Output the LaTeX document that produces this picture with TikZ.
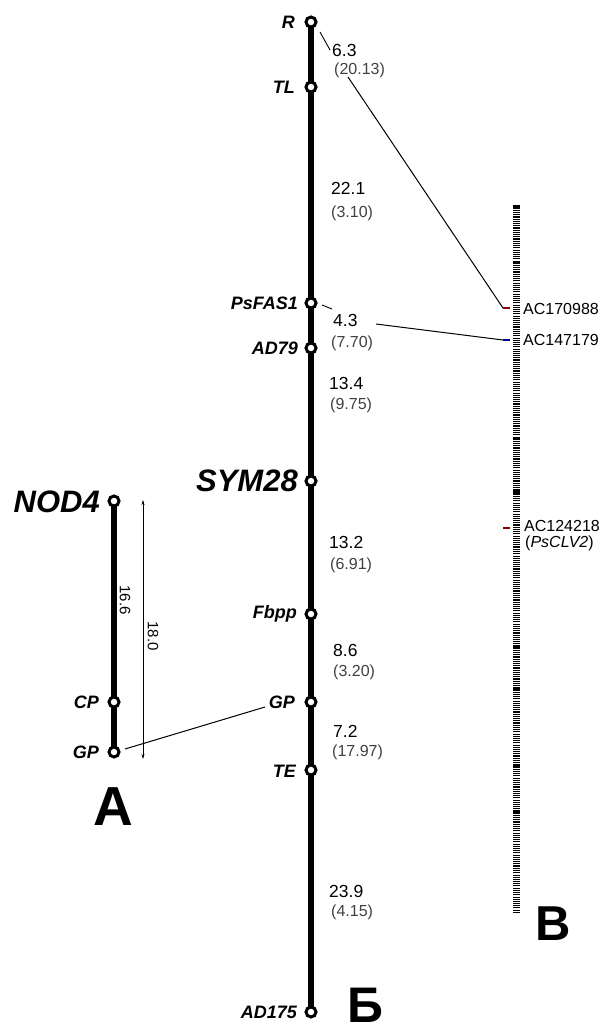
\documentclass[tikz,border=0pt]{standalone}
\usepackage{fontspec}
\setmainfont{Liberation Sans}
\usetikzlibrary{arrows.meta}
\begin{document}
\begin{tikzpicture}[x=1pt,y=-1pt,
  loc/.style={circle,draw=black,fill=white,line width=3pt,minimum size=10pt,inner sep=0pt},
  chrom/.style={line width=5.5pt},
  lbl/.style={font=\fontsize{18}{18}\selectfont\bfseries\itshape,anchor=east,inner sep=0pt},
  big/.style={font=\fontsize{31}{31}\selectfont\bfseries\itshape,anchor=east,inner sep=0pt},
  dist/.style={font=\fontsize{17.5}{17.5}\selectfont,anchor=west,inner sep=0pt},
  cmlbl/.style={font=\fontsize{16}{16}\selectfont,text=black!75,anchor=west,inner sep=0pt},
  acl/.style={font=\fontsize{16}{16}\selectfont,anchor=west,inner sep=0pt},
  rot/.style={font=\fontsize{15}{15}\selectfont,rotate=-90,inner sep=0pt},
  link/.style={line width=1pt}]
\useasboundingbox (0,0) rectangle (605,1028);
% ---- main chromosome
\coordinate (mtop) at (311,22);
\coordinate (mbot) at (311,1012);
\draw[chrom] (mtop) -- (mbot);
\node[loc] (R) at (311,22) {};
\node[loc] (TL) at (311,87) {};
\node[loc] (PsFAS1) at (311,303) {};
\node[loc] (AD79) at (311,348) {};
\node[loc] (SYM28) at (311,481) {};
\node[loc] (Fbpp) at (311,614) {};
\node[loc] (GPm) at (311,702) {};
\node[loc] (TE) at (311,770) {};
\node[loc] (AD175) at (311,1012) {};
\node[lbl] (lR) at (295,22) {R};
\node[lbl] (lTL) at (295,87) {TL};
\node[lbl] (lPs) at (298,303) {PsFAS1};
\node[lbl] (lAD79) at (298,348) {AD79};
\node[big] (lSYM) at (298,481) {SYM28};
\node[lbl] (lFb) at (297,614) {Fbpp};
\node[lbl] (lGPm) at (295,702) {GP};
\node[lbl] (lTE) at (296,771) {TE};
\node[lbl] (lAD175) at (297,1012) {AD175};
% distances
\node[dist] (d1) at (332,50) {6.3};
\node[cmlbl] (c1) at (334,70) {(20.13)};
\node[dist] (d2) at (331,188) {22.1};
\node[cmlbl] (c2) at (331,213) {(3.10)};
\node[dist] (d3) at (333,320) {4.3};
\node[cmlbl] (c3) at (331,343) {(7.70)};
\node[dist] (d4) at (329,383) {13.4};
\node[cmlbl] (c4) at (330,405) {(9.75)};
\node[dist] (d5) at (329,542) {13.2};
\node[cmlbl] (c5) at (330,565) {(6.91)};
\node[dist] (d6) at (333,650) {8.6};
\node[cmlbl] (c6) at (333,672) {(3.20)};
\node[dist] (d7) at (333,731) {7.2};
\node[cmlbl] (c7) at (332,752) {(17.97)};
\node[dist] (d8) at (329,891) {23.9};
\node[cmlbl] (c8) at (331,912) {(4.15)};
% ---- left chromosome
\coordinate (ltop) at (114,501);
\coordinate (lbot) at (114,752);
\draw[chrom] (ltop) -- (lbot);
\node[loc] (NOD4) at (114,501) {};
\node[loc] (CP) at (114,702) {};
\node[loc] (GPl) at (114,752) {};
\node[big] (lNOD) at (100,502) {NOD4};
\node[lbl] (lCP) at (99,702) {CP};
\node[lbl] (lGPl) at (99,752) {GP};
\coordinate (ar1) at (143,500);
\coordinate (ar2) at (143,759);
\draw[line width=0.6pt,{Stealth[length=5pt,width=3pt]}-{Stealth[length=5pt,width=3pt]}] (ar1) -- (ar2);
\node[rot] (l166) at (125,600) {16.6};
\node[rot] (l180) at (153,636) {18.0};
% ---- ladder
\pgfmathsetseed{11}
\foreach \yy in {206,208.2,...,914}{
  \pgfmathsetmacro{\lw}{0.6+0.9*rnd}
  \draw[line width=\lw pt] (513,\yy) -- (520,\yy);
}
\coordinate (m1) at (503,308);
\coordinate (m2) at (503,340);
\coordinate (m3) at (503,528);
\draw[line width=1.6pt,red!55!black] (m1) -- +(7,0);
\draw[line width=1.6pt,blue!60!black] (m2) -- +(7,0);
\draw[line width=1.6pt,red!55!black] (m3) -- +(7,0);
\node[acl] (a1) at (523,309) {AC170988};
\node[acl] (a2) at (523,340) {AC147179};
\node[acl] (a3) at (524,526) {AC124218};
\node[acl] (a3b) at (525,543) {(\textit{PsCLV2})};
% ---- connectors
\coordinate (k1) at (320,32);
\coordinate (k2) at (330,50);
\draw[line width=0.9pt] (k1) -- (k2);
\coordinate (k3) at (348,77);
\draw[link] (k3) -- (m1);
\coordinate (k4) at (322,305);
\coordinate (k5) at (332,309);
\draw[line width=0.9pt] (k4) -- (k5);
\coordinate (k6) at (376,324);
\draw[link] (k6) -- (m2);
\coordinate (k7) at (125,749);
\coordinate (k8) at (265,707);
\draw[link] (k7) -- (k8);
% panel letters
\node[font=\fontsize{55}{55}\selectfont\bfseries,anchor=base,inner sep=0pt] (pA) at (113,825) {А};
\node[font=\fontsize{50}{50}\selectfont\bfseries,anchor=base,inner sep=0pt] (pB) at (365,1022) {Б};
\node[font=\fontsize{49}{49}\selectfont\bfseries,anchor=base,inner sep=0pt] (pV) at (553,940) {В};
\end{tikzpicture}
\end{document}
